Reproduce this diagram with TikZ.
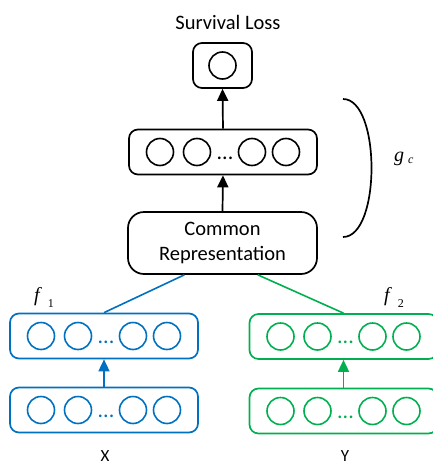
\documentclass[tikz,border=0pt]{standalone}
\usepackage{fontspec}
\setmainfont{Carlito}
\newfontfamily\timesit[ItalicFont={* Italic}]{Liberation Serif}
\usetikzlibrary{arrows.meta,positioning,calc}
\definecolor{netblue}{RGB}{0,112,192}
\definecolor{netgreen}{RGB}{0,176,80}

% one row of units: name, centre, colour
\newcommand\unitrow[3]{%
  \node[layer,draw=#3] (#1) at (#2) {};
  \foreach \dx [count=\k] in {-63,-26,29,63}
    \node[unit,draw=#3] (#1u\k) at ($(#1)+(\dx,0)$) {};
  \node[text=#3,font=\fontsize{22}{22}\selectfont] (#1dots) at ($(#1)+(2,6)$) {...};}

\begin{document}
\begin{tikzpicture}[x=1pt,y=-1pt,
  every node/.append style={inner sep=0pt},
  layer/.style={draw,rounded corners=9pt,line width=1.7pt,minimum width=188pt,minimum height=45pt},
  unit/.style={draw,circle,line width=1.6pt,minimum size=27pt},
  link/.style={line width=1.7pt,-{Triangle[length=12pt,width=11pt]}},
  lbl/.style={font=\fontsize{20.5}{25}\selectfont}]
\useasboundingbox (0,0) rectangle (433,469);

% shared part
\node[draw,rounded corners=9pt,line width=1.7pt,minimum width=59pt,minimum height=45pt] (loss) at (222.5,65.5) {};
\node[unit] (lossu) at (loss) {};
\node[lbl,anchor=base] (losstxt) at (228,29) {Survival Loss};
\unitrow{mid}{223,152}{black}
\node[draw,rounded corners=16pt,line width=1.7pt,minimum width=189pt,minimum height=62pt,align=center,lbl] (common) at (222.5,243) {Common\\Representation};
\draw[link] (mid.north) -- (loss.south);
\draw[link] (common.north) -- (mid.south);

% bracket for g_c
\coordinate (gtop) at (343,99);
\coordinate (gbot) at (343,237);
\draw[line width=1.7pt] (gtop) .. controls (381,99) and (381,237) .. (gbot);
\node[anchor=base west] (gc) at (394,161) {\fontsize{20}{20}\timesit\itshape g\hspace{4pt}\raisebox{-2pt}{\fontsize{12}{12}\selectfont c}};

% view X
\unitrow{xa}{104,410}{netblue}
\unitrow{xb}{104,336}{netblue}
\draw[link,netblue] (xa.north) -- (xb.south);
\draw[line width=1.6pt,netblue] (xb.north) -- ($(common.south west)!0.3!(common.south east)$);
\node[anchor=base west] (f1) at (34,301) {\fontsize{20}{20}\timesit\itshape f\hspace{8pt}\raisebox{-6pt}{\fontsize{12}{12}\selectfont\upshape 1}};
\node[font=\fontsize{17}{17}\selectfont,anchor=base] (xtxt) at (105,461) {X};

% view Y
\unitrow{ya}{343.5,411}{netgreen}
\unitrow{yb}{343.5,336.5}{netgreen}
\draw[link,netgreen] (ya.north) -- (yb.south);
\draw[line width=1.6pt,netgreen] (yb.north) -- ($(common.south west)!0.685!(common.south east)$);
\node[anchor=base west] (f2) at (384,301) {\fontsize{20}{20}\timesit\itshape f\hspace{8pt}\raisebox{-6pt}{\fontsize{12}{12}\selectfont\upshape 2}};
\node[font=\fontsize{17}{17}\selectfont,anchor=base] (ytxt) at (345,461) {Y};
\end{tikzpicture}
\end{document}
